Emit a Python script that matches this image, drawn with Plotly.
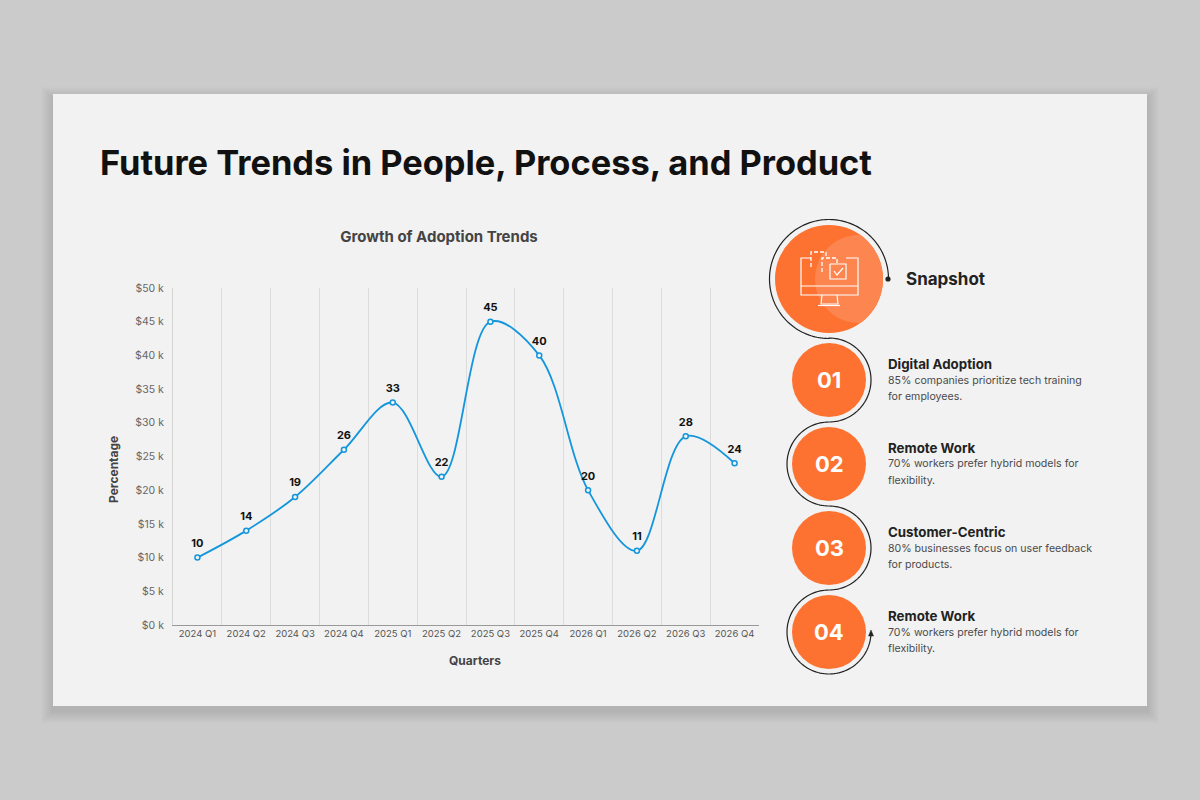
import numpy as np
import plotly.graph_objects as go

quarters = ["2024 Q1","2024 Q2","2024 Q3","2024 Q4","2025 Q1","2025 Q2","2025 Q3","2025 Q4","2026 Q1","2026 Q2","2026 Q3","2026 Q4"]
adoption = [10,14,19,26,33,22,45,40,20,11,28,24]
y_ticks = [0,5,10,15,20,25,30,35,40,45,50]
y_labels = ["$0 k","$5 k","$10 k","$15 k","$20 k","$25 k","$30 k","$35 k","$40 k","$45 k","$50 k"]
step_numbers = ["01","02","03","04"]
step_heads = ["Digital Adoption","Remote Work","Customer-Centric","Remote Work"]
step_line1 = ["85% companies prioritize tech training","70% workers prefer hybrid models for","80% businesses focus on user feedback","70% workers prefer hybrid models for"]
step_line2 = ["for employees.","flexibility.","for products.","flexibility."]
step_cy = [380,464,548,632]

FONT = "Inter, 'Open Sans', sans-serif"
ORANGE = "#fd7231"
INK = "#222222"
def X(p): return p/1200
def Y(p): return 1-p/800

shapes, annots = [], []
def rect(x0,y0,x1,y1,fill,layer="below"):
    shapes.append(dict(type="rect",xref="paper",yref="paper",x0=X(x0),x1=X(x1),y0=Y(y0),y1=Y(y1),fillcolor=fill,line_width=0,layer=layer))
def circle(cx,cy,r,fill):
    shapes.append(dict(type="circle",xref="paper",yref="paper",x0=X(cx-r),x1=X(cx+r),y0=Y(cy-r),y1=Y(cy+r),fillcolor=fill,line_width=0,layer="above"))
def path(pts,color="#ffffff",w=1.2,fill=None,dash=None):
    d="M"+" L".join(f"{X(a):.5f},{Y(b):.5f}" for a,b in pts)
    if fill: d+=" Z"
    line=dict(color=color,width=w)
    if dash: line["dash"]=dash
    shapes.append(dict(type="path",xref="paper",yref="paper",path=d,line=line,fillcolor=fill or "rgba(0,0,0,0)",layer="above"))
def arc(cx,cy,r,a0,a1,n=80):
    t=np.radians(np.linspace(a0,a1,n))
    return [(cx+r*np.cos(v),cy+r*np.sin(v)) for v in t]
def text(x,y,s,size,color=INK,bold=False,anchor="left",angle=0):
    annots.append(dict(xref="paper",yref="paper",x=X(x),y=Y(y),text=f"<b>{s}</b>" if bold else s,showarrow=False,borderpad=0,borderwidth=0,
        xanchor=anchor,yanchor="middle",textangle=angle,font=dict(family=FONT,size=size,color=color)))

# card with soft shadow
for i in range(12,0,-1):
    rect(53-i,94-i+5,1147+i,706+i+5,"rgba(0,0,0,0.006)")
rect(53,94,1147,706,"#f2f2f2")

# connector line
pts=arc(829,279,59.5,0,-270,140)
for k,cy in enumerate(step_cy):
    if k%2==0: pts+=arc(829,cy,42,-90,90,60)
    else: pts+=arc(829,cy,42,270,90,60)
pts+=arc(829,632,42,90,2,40)
path(pts,"#222222",1.2)
circle(888,279,2.6,"#222222")
path([(871,630),(868.5,636),(873.5,636)],"#222222",0.5,fill="#222222")

# big circle and lens highlight
circle(829,279,54,ORANGE)
a=np.radians(np.linspace(-180,180,180))
lens=[]
for t in a:
    x,y=859+44*np.cos(t),279+44*np.sin(t)
    dx,dy=x-829,y-279
    d=np.hypot(dx,dy)
    if d>54: x,y=829+dx/d*54,279+dy/d*54
    lens.append((x,y))
path(lens,"rgba(0,0,0,0)",0,fill="#fd8550")

# monitor icon
path([(811,258),(801,258),(801,295),(858,295),(858,258),(846,258)])
path([(801,286),(858,286)])
path([(822,295),(821,304),(838,304),(837,295)])
path([(818,305.5),(840,305.5)])
path([(811,267),(811,252),(826,252),(826,258)],dash="4px,2px",w=1.3)
path([(822,272),(822,258),(837,258),(837,264)],dash="4px,2px",w=1.3)
path([(830,264),(846,264),(846,279),(830,279),(830,264)])
path([(834,271),(837,275),(843,268)])

# numbered circles
for n,h,l1,l2,cy in zip(step_numbers,step_heads,step_line1,step_line2,step_cy):
    circle(829,cy,37,ORANGE)
    text(829,cy,n,22,"#ffffff",True,"center")
    text(888,cy-16,h,13.3,"#222222",True)
    text(888,cy,l1,10.6,"#4a4a4a")
    text(888,cy+16,l2,10.6,"#4a4a4a")

text(100,162,"Future Trends in People, Process, and Product",34.4,"#111111",True)
text(906,279,"Snapshot",17,"#222222",True)
text(475,660,"Quarters",12,"#444444",True,"center")
text(113,470,"Percentage",12,"#444444",True,"center",-90)

fig=go.Figure()
fig.add_trace(go.Scatter(x=quarters,y=adoption,mode="lines+markers",
    line=dict(color="#1496dc",width=1.8,shape="spline",smoothing=1.0),
    marker=dict(size=5,color="#f2f2f2",line=dict(color="#1496dc",width=1.5)),showlegend=False))
fig.add_trace(go.Scatter(x=quarters,y=adoption,mode="markers+text",
    marker=dict(size=11,opacity=0),
    text=[f"<b>{v}</b>" for v in adoption],textposition="top center",
    textfont=dict(family=FONT,size=11,color="#111111"),cliponaxis=False,showlegend=False,hoverinfo="skip"))
fig.update_layout(width=1200,height=800,margin=dict(l=0,r=0,t=0,b=0,autoexpand=False),paper_bgcolor="#cbcbcb",plot_bgcolor="rgba(0,0,0,0)",
    shapes=shapes,annotations=annots,showlegend=False,
    title=dict(text="<b>Growth of Adoption Trends</b>",x=439/1200,y=Y(237),xanchor="center",yanchor="middle",
               font=dict(family=FONT,size=15,color="#444444")),
    xaxis=dict(domain=[X(173),X(759)],type="category",range=[-0.5,11.5],tickson="boundaries",showgrid=True,gridcolor="#dcdcdc",gridwidth=1,
        ticks="",showline=True,linecolor="#999999",linewidth=1,tickfont=dict(family=FONT,size=9.5,color="#555555"),tickangle=0,zeroline=False),
    yaxis=dict(domain=[Y(625),Y(288)],range=[0,50],tickvals=y_ticks,ticktext=y_labels,showgrid=False,zeroline=False,
        showline=True,linecolor="#d5d5d5",linewidth=1,ticks="",ticklabelstandoff=6,tickfont=dict(family=FONT,size=10.5,color="#666666")))
fig.write_html("out.html",config=dict(displayModeBar=False),post_script="document.body.style.margin='0';document.body.style.overflow='hidden';")
